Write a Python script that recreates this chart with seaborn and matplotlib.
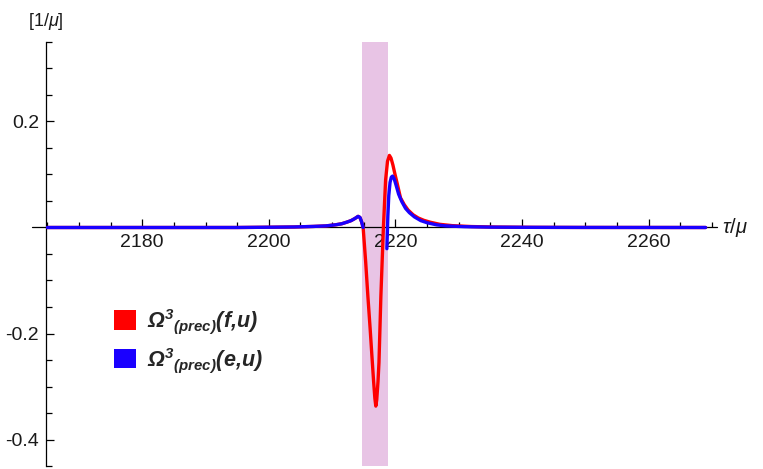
import numpy as np
import pandas as pd
import matplotlib
matplotlib.use('Agg')
import matplotlib.pyplot as plt
import seaborn as sns
from matplotlib.patches import Patch
from matplotlib.ticker import FixedLocator, MultipleLocator, FuncFormatter

red_x = [2165, 2195, 2200, 2204, 2207, 2209, 2210.5, 2211.5, 2212.3, 2213, 2213.6, 2214.1,
         2214.4, 2214.65, 2214.9, 2215.3, 2215.65, 2216.0, 2216.3, 2216.55, 2216.75, 2216.9,
         2217.05, 2217.25, 2217.4, 2217.7, 2218.1, 2218.45, 2218.75, 2219.05, 2219.3, 2219.6,
         2219.9, 2220.3, 2220.8, 2221.4, 2222.0, 2222.8, 2223.6, 2224.5, 2225.5, 2227, 2229,
         2232, 2236, 2242, 2250, 2269]
red_y = [0, 0, 0.0005, 0.001, 0.002, 0.003, 0.005, 0.007, 0.010, 0.013, 0.017, 0.021,
         0.019, 0.011, 0.0, -0.065, -0.13, -0.19, -0.245, -0.29, -0.322, -0.337,
         -0.325, -0.29, -0.255, -0.13, 0.0, 0.09, 0.125, 0.136, 0.131, 0.118,
         0.102, 0.082, 0.056, 0.043, 0.033, 0.024, 0.018, 0.0135, 0.01, 0.006, 0.0035,
         0.0018, 0.0008, 0.0003, 0.0001, 0]

blue_left_x = [2165, 2195, 2200, 2204, 2207, 2209, 2210.5, 2211.5, 2212.3, 2213, 2213.6, 2214.1,
               2214.4, 2214.65, 2214.9]
blue_left_y = [0, 0, 0.0005, 0.001, 0.002, 0.003, 0.005, 0.007, 0.010, 0.013, 0.017, 0.021,
               0.019, 0.011, 0.0]
blue_right_x = [2218.65, 2218.8, 2218.95, 2219.15, 2219.35, 2219.55, 2219.8, 2220.1, 2220.5,
                2221.0, 2221.6, 2222.2, 2223.0, 2224.0, 2225.0, 2226.5, 2228, 2231, 2235,
                2241, 2250, 2269]
blue_right_y = [-0.04, 0.02, 0.06, 0.085, 0.095, 0.097, 0.092, 0.08, 0.063,
                0.049, 0.036, 0.028, 0.02, 0.013, 0.009, 0.005, 0.003, 0.0015, 0.0007,
                0.0003, 0.0001, 0]

band = (2214.75, 2218.8)
labels = [r'$\mathbf{\Omega^{3}{}_{(prec)}(f{,}u)}$', r'$\mathbf{\Omega^{3}{}_{(prec)}(e{,}u)}$']

sns.set_style('white')
plt.rcParams['font.family'] = ['Liberation Sans', 'DejaVu Sans']
plt.rcParams['mathtext.fontset'] = 'custom'
plt.rcParams['mathtext.rm'] = 'Liberation Sans'
plt.rcParams['mathtext.it'] = 'Liberation Sans:italic'
plt.rcParams['mathtext.bf'] = 'Liberation Sans:bold:italic'
plt.rcParams['axes.unicode_minus'] = False

fig = plt.figure(figsize=(7.63, 4.69), dpi=100)
ax = fig.add_axes([46 / 763, 3 / 469, 671 / 763, 424 / 469])

ax.axvspan(band[0], band[1], color='#e8c4e5', lw=0, zorder=0)

red = pd.DataFrame({'tau': red_x, 'val': red_y})
bl = pd.DataFrame({'tau': blue_left_x, 'val': blue_left_y})
br = pd.DataFrame({'tau': blue_right_x, 'val': blue_right_y})
sns.lineplot(data=red, x='tau', y='val', color='#ff0000', lw=2.4, estimator=None, sort=False, ax=ax, zorder=3)
sns.lineplot(data=bl, x='tau', y='val', color='#1a00ff', lw=2.4, estimator=None, sort=False, ax=ax, zorder=4)
sns.lineplot(data=br, x='tau', y='val', color='#1a00ff', lw=2.4, estimator=None, sort=False, ax=ax, zorder=4)

ax.set_xlim(2164.8, 2270.8)
ax.set_ylim(-0.45, 0.35)
ax.set_xlabel('')
ax.set_ylabel('')

for s in ['top', 'right']:
    ax.spines[s].set_visible(False)
ax.spines['bottom'].set_position(('data', 0))
ax.spines['bottom'].set_visible(False)
ax.axhline(0, xmin=-0.021, xmax=1, color='black', lw=0.9, clip_on=False, zorder=2)
ax.spines['left'].set_color('black')
ax.spines['left'].set_linewidth(0.9)

ax.xaxis.set_major_locator(FixedLocator([2180, 2200, 2220, 2240, 2260]))
ax.xaxis.set_minor_locator(MultipleLocator(5))
ax.yaxis.set_major_locator(FixedLocator([-0.4, -0.2, 0.2]))
ax.yaxis.set_minor_locator(MultipleLocator(0.05))
ax.yaxis.set_major_formatter(FuncFormatter(lambda v, p: f'{v:.1f}'))
ax.tick_params(axis='both', which='both', direction='in', colors='black', labelcolor='#1a1a1a',
               labelsize=14)
ax.tick_params(axis='x', which='major', length=6, width=0.9, pad=5)
ax.tick_params(axis='x', which='minor', length=3.5, width=0.9)
ax.tick_params(axis='y', which='major', length=6, width=0.9, pad=5)
ax.tick_params(axis='y', which='minor', length=4, width=0.9)
ax.xaxis.set_ticks_position('bottom')
ax.yaxis.set_ticks_position('left')

fig.text(46 / 763, 1 - 22 / 469, r'[1/$\mu$]', ha='center', va='center', fontsize=13, color='#1a1a1a')
ax.text(1.008, 0, r'$\tau/\mu$', transform=ax.get_yaxis_transform(), ha='left', va='center',
        fontsize=14.5, color='#1a1a1a')

handles = [Patch(facecolor='#ff0000', edgecolor='none', label=labels[0]),
           Patch(facecolor='#1a00ff', edgecolor='none', label=labels[1])]
ax.legend(handles=handles, loc='upper left', bbox_to_anchor=(114 / 763, 1 - 307 / 469),
          bbox_transform=fig.transFigure, frameon=False, fontsize=15.5, handlelength=1.0,
          handleheight=1.0, handletextpad=0.55, borderpad=0, borderaxespad=0, labelspacing=0.45)

fig.savefig('out.png', dpi=100)
